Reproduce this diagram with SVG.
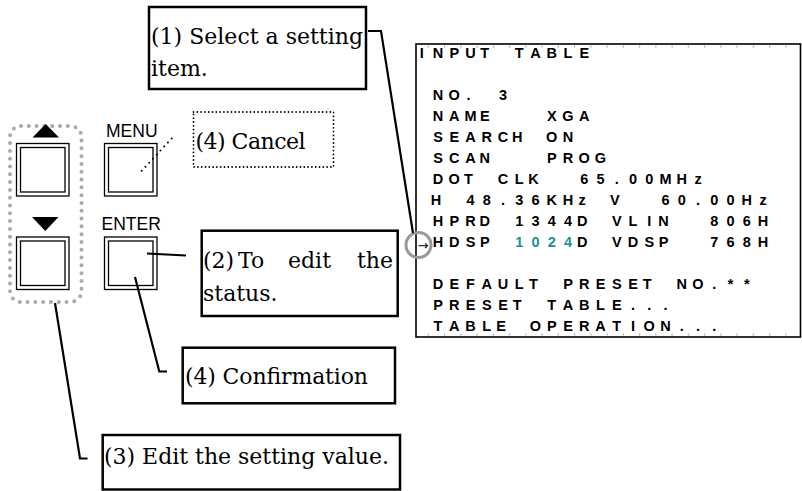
<svg xmlns="http://www.w3.org/2000/svg" width="802" height="491" viewBox="0 0 802 491">
<style>
.box{fill:#fff;stroke:#000;stroke-width:2.5}
.cbox{fill:none;stroke:#000;stroke-width:1.8;stroke-dasharray:0 3.8;stroke-linecap:round}
.ser{font-family:"DejaVu Serif","Liberation Serif",serif;font-size:22px;fill:#000}
.lbl{font-family:"Liberation Sans",Arial,sans-serif;font-size:17.5px;fill:#000}
.btn{fill:#fff;stroke:#000;stroke-width:1.3}
.lcd{font-family:"Liberation Sans",Arial,sans-serif;font-size:14.5px;font-weight:bold;fill:#000;text-anchor:middle}
.hl{fill:#1f8f8e}
.con{fill:none;stroke:#000;stroke-width:2.2}
</style>

<!-- LCD table -->
<g id="table">
<rect x="416" y="44" width="384.5" height="293" fill="#fff" stroke="#000" stroke-width="1.6"/>
<line x1="427.75" y1="46.5" x2="800" y2="46.5" stroke="#aaa" stroke-width="2" stroke-dasharray="1.2 15.05"/>
<line x1="427.75" y1="334.5" x2="800" y2="334.5" stroke="#aaa" stroke-width="2" stroke-dasharray="1.2 15.05"/>
<text class="lcd" y="58"><tspan x="421.75 438 454.25 470.5 486.75">INPUT</tspan> <tspan x="519.25 535.5 551.75 568 584.25">TABLE</tspan></text>
<text class="lcd" y="100"><tspan x="438 454.25 470.5">NO.</tspan> <tspan x="503">3</tspan></text>
<text class="lcd" y="121"><tspan x="438 454.25 470.5 486.75">NAME</tspan> <tspan x="551.75 568 584.25">XGA</tspan></text>
<text class="lcd" y="142"><tspan x="438 454.25 470.5 486.75 503 519.25">SEARCH</tspan> <tspan x="551.75 568">ON</tspan></text>
<text class="lcd" y="163"><tspan x="438 454.25 470.5 486.75">SCAN</tspan> <tspan x="551.75 568 584.25 600.5">PROG</tspan></text>
<text class="lcd" y="184"><tspan x="438 454.25 470.5">DOT</tspan> <tspan x="503 519.25 535.5">CLK</tspan> <tspan x="584.25 600.5 616.75 633 649.25 665.5 681.75 698">65.00MHz</tspan></text>
<text class="lcd" y="205"><tspan x="438">H</tspan> <tspan x="470.5 486.75 503 519.25 535.5 551.75 568 584.25">48.36KHz</tspan> <tspan x="616.75">V</tspan> <tspan x="665.5 681.75 698 714.25 730.5 746.75 763">60.00Hz</tspan></text>
<text class="lcd" y="226"><tspan x="438 454.25 470.5 486.75">HPRD</tspan> <tspan x="519.25 535.5 551.75 568 584.25">1344D</tspan> <tspan x="616.75 633 649.25 665.5">VLIN</tspan> <tspan x="714.25 730.5 746.75 763">806H</tspan></text>
<text class="lcd" y="247"><tspan x="438 454.25 470.5 486.75">HDSP</tspan> <tspan class="hl" x="519.25 535.5 551.75 568">1024</tspan><tspan x="584.25">D</tspan> <tspan x="616.75 633 649.25 665.5">VDSP</tspan> <tspan x="714.25 730.5 746.75 763">768H</tspan></text>
<text class="lcd" y="289"><tspan x="438 454.25 470.5 486.75 503 519.25 535.5">DEFAULT</tspan> <tspan x="568 584.25 600.5 616.75 633 649.25">PRESET</tspan> <tspan x="681.75 698 714.25 730.5 746.75">NO.**</tspan></text>
<text class="lcd" y="310"><tspan x="438 454.25 470.5 486.75 503 519.25">PRESET</tspan> <tspan x="551.75 568 584.25 600.5 616.75 633 649.25 665.5">TABLE...</tspan></text>
<text class="lcd" y="331"><tspan x="438 454.25 470.5 486.75 503">TABLE</tspan> <tspan x="535.5 551.75 568 584.25 600.5 616.75 633 649.25 665.5 681.75 698 714.25">OPERATION...</tspan></text>
<text x="423" y="250" font-family="DejaVu Sans,sans-serif" font-size="13" text-anchor="middle">→</text>
<circle cx="418.5" cy="245" r="12.5" fill="none" stroke="#999" stroke-width="3"/>
</g>

<!-- arrow key group -->
<g id="arrow-keys">
<rect x="10" y="126" width="71.5" height="176" rx="11" fill="none" stroke="#aaa" stroke-width="4" stroke-linecap="round" stroke-dasharray="0 7.8"/>
<polygon points="32.5,137.5 59,137.5 45.7,124" fill="#000"/>
<polygon points="32,217 58.5,217 45.3,231" fill="#000"/>
<rect class="btn" x="16.5" y="143.5" width="52.5" height="52.5"/>
<rect class="btn" x="20.5" y="147.5" width="44.5" height="44.5"/>
<rect class="btn" x="16.5" y="237" width="52.5" height="52.5"/>
<rect class="btn" x="20.5" y="241" width="44.5" height="44.5"/>
</g>

<g id="menu-key">
<text class="lbl" x="106" y="137">MENU</text>
<rect class="btn" x="104.5" y="143.5" width="52.5" height="52.5"/>
<rect class="btn" x="108.5" y="147.5" width="44.5" height="44.5"/>
</g>

<g id="enter-key">
<text class="lbl" x="101.5" y="229.5">ENTER</text>
<rect class="btn" x="104.5" y="237" width="52.5" height="52.5"/>
<rect class="btn" x="108.5" y="241" width="44.5" height="44.5"/>
</g>

<!-- connectors -->
<g id="connectors">
<polyline class="con" points="368,31 381,31 413,233"/>
<line x1="141.7" y1="170.7" x2="175" y2="135" stroke="#000" stroke-width="2" stroke-linecap="round" stroke-dasharray="0 5.5"/>
<polyline class="con" points="147,253.5 186,255.5"/>
<polyline class="con" points="135,277 159.3,371.5 167,371.5"/>
<polyline class="con" points="55,303 80,458.5 87.5,458.5"/>
</g>

<!-- callouts -->
<g id="callout-1">
<rect class="box" x="149" y="7" width="217" height="82"/>
<text class="ser" x="151" y="43.5" textLength="212">(1) Select a setting</text>
<text class="ser" x="151" y="75.5">item.</text>
</g>

<g id="callout-cancel">
<rect class="cbox" x="193.5" y="112" width="140" height="55"/>
<text class="ser" x="195.5" y="148.5" textLength="110">(4) Cancel</text>
</g>

<g id="callout-2">
<rect class="box" x="201.7" y="230.7" width="196" height="85.3"/>
<text class="ser" y="267.5"><tspan x="203">(2)</tspan> <tspan x="238">To</tspan> <tspan x="288">edit</tspan> <tspan x="357">the</tspan></text>
<text class="ser" x="203" y="301">status.</text>
</g>

<g id="callout-confirm">
<rect class="box" x="182.7" y="347.7" width="212.3" height="55.6"/>
<text class="ser" x="185" y="384" textLength="183">(4) Confirmation</text>
</g>

<g id="callout-3">
<rect class="box" x="102.7" y="435" width="297.3" height="54.5"/>
<text class="ser" x="104" y="464" textLength="285">(3) Edit the setting value.</text>
</g>
</svg>
